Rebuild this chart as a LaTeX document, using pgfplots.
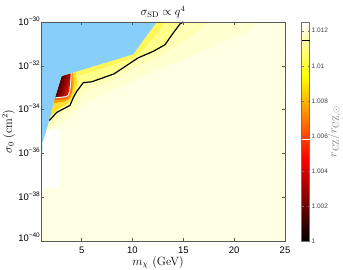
\documentclass[border=0pt]{standalone}
\usepackage{pgfplots}
\pgfplotsset{compat=1.18}
\usepackage{fontspec}
\setsansfont{Liberation Sans}
\definecolor{sky}{RGB}{135,206,250}
\definecolor{cream}{RGB}{255,255,228}
\definecolor{cA}{RGB}{255,255,208}
\definecolor{cB}{RGB}{255,255,182}
\definecolor{yA}{RGB}{255,255,140}
\definecolor{yB}{RGB}{255,246,92}
\definecolor{hA}{RGB}{255,222,50}
\definecolor{hB}{RGB}{255,160,0}
\definecolor{hC}{RGB}{255,95,0}
\definecolor{dkA}{RGB}{10,0,0}
\definecolor{dkM}{RGB}{140,0,0}
\definecolor{dkB}{RGB}{255,40,0}
\definecolor{lblue}{RGB}{195,228,250}
\newcommand\yt[1]{10\raisebox{4bp}{\fontsize{6.5}{7}\selectfont −#1}}
\begin{document}
\begin{tikzpicture}
\path[use as bounding box] (0,0) rectangle (343bp,270bp);
\begin{axis}[
  at={(41bp,29bp)}, anchor=south west,
  scale only axis, width=244bp, height=219bp,
  xmin=1, xmax=25, ymin=-40, ymax=-30,
  xtick={5,10,15,20,25},
  ytick={-40,-38,-36,-34,-32,-30},
  yticklabels={\raisebox{3bp}{\yt{40}},\yt{38},\yt{36},\yt{34},\yt{32},\yt{30}},
  xticklabel style={/pgf/number format/assume math mode=true, font=\fontsize{9.5}{11}\selectfont\sffamily, inner sep=0pt, yshift=-6bp},
  yticklabel style={font=\fontsize{9.5}{11}\selectfont\sffamily, inner sep=0pt, anchor=base east, xshift=-1bp, yshift=-3.4bp},
  tick align=inside, major tick length=3bp,
  axis line style={black!65}, every tick/.style={black!65},
  axis background/.style={fill=cream},
  axis on top,
  title={$\sigma_{\rm SD}\propto q^4$},
  title style={at={(axis description cs:0.5,1)}, anchor=south, inner sep=0pt, yshift=-2bp, font=\fontsize{12}{14}\selectfont},
  xlabel={$m_\chi$ (GeV)},
  xlabel style={at={(axis description cs:0.5,0)}, anchor=north, inner sep=0pt, yshift=-15bp, xshift=-5bp, font=\fontsize{12}{14}\selectfont},
  ylabel={$\sigma_0$ (cm$^2$)},
  ylabel style={at={(axis description cs:0,0.5)}, anchor=south, inner sep=0pt, yshift=26bp, font=\fontsize{12}{14}\selectfont},
  colormap={hotm}{rgb255(0cm)=(0,0,0) rgb255(3cm)=(255,0,0) rgb255(6cm)=(255,255,0) rgb255(8cm)=(255,255,255)},
  colorbar, point meta min=1, point meta max=1.0125,
  colorbar style={
    at={(parent axis.north east)}, anchor=north west, xshift=8bp,
    scale only axis, width=8bp, height=219bp,
    ytick={1,1.002,1.004,1.006,1.008,1.01,1.012},
    yticklabels={1,1.002,1.004,1.006,1.008,1.01,1.012},
    scaled y ticks=false,
    ytick pos=both, yticklabel pos=right,
    yticklabel style={font=\fontsize{6.5}{7}\selectfont\sffamily, anchor=west, inner sep=0pt, xshift=2bp, text=black!75},
    tick align=inside, major tick length=2bp,
    axis line style={black!55}, every tick/.style={black!55},
    ylabel={$r_{\rm CZ}/r_{{\rm CZ},\odot}$},
    ylabel style={at={(axis description cs:1,0.5)}, anchor=north, inner sep=0pt, yshift=-18bp, text=black!55, font=\fontsize{12.5}{14}\selectfont},
    after end axis/.code={
      \draw[white, line width=1.3bp] (rel axis cs:0,0.4645) -- (rel axis cs:1,0.4645);
      \draw[black, line width=1.3bp] (rel axis cs:0,0.9155) -- (rel axis cs:1,0.9155);
    },
  },
]
% faint outer band (above L3)
\addplot[draw=none, fill=cA] coordinates {
 (1,-30) (22.5,-30) (21,-30.5) (18,-31.1) (14,-31.9) (10.5,-32.6) (7,-33.3)
 (5,-33.8) (4,-34.3) (3,-34.6) (2,-34.9) (1,-35.3)};
% pale band (above L2)
\addplot[draw=none, fill=cB] coordinates {
 (1,-30) (17.4,-30) (16.3,-30.45) (15,-30.9) (12.5,-31.6) (10.5,-32.0) (8.5,-32.55)
 (6.3,-32.95) (5.3,-33.15) (4.7,-33.5) (4.2,-33.95) (3.0,-34.15) (2.3,-34.5)
 (1.8,-34.75) (1.5,-35.0) (1,-35.3)};
% white region
\addplot[draw=none, fill=white] coordinates {
 (1,-35.6) (1.23,-35.4) (1.6,-35.0) (2.2,-34.85) (2.7,-35.0) (2.9,-35.3)
 (2.9,-37.2) (2.75,-37.5) (2.5,-37.58) (1,-37.6)};
\addplot[draw=none, fill=lblue] coordinates {
 (1,-35.6) (1.2,-35.6) (1.08,-36.2) (1,-36.5)};
% yellow region between exclusion boundary and contour
\addplot[draw=none, fill=yA] coordinates {
 (12.37,-30) (10.08,-31.47) (3.03,-32.47) (2.38,-33.45) (1.82,-34.47)
 (1.82,-34.50) (2.54,-34.13) (3.85,-33.81) (4.15,-33.48) (4.51,-33.17) (5.16,-32.77)
 (5.99,-32.73) (8.18,-32.37) (9.51,-31.96) (10.54,-31.64) (12.04,-31.34)
 (13.19,-31.04) (14.01,-30.50) (14.67,-30.09) (15.0,-30.0)};
\addplot[draw=none, fill=yB] coordinates {
 (12.37,-30) (10.08,-31.47) (3.03,-32.47) (4.5,-32.45) (5,-32.42) (8,-31.98)
 (10.2,-31.6) (11.2,-31.2) (12.3,-30.6) (13.2,-30)};
% halo around the dark region
\addplot[draw=none, fill=hA] coordinates {
 (3.03,-32.47) (4.4,-32.29) (4.6,-32.8) (4.2,-33.35) (3.6,-33.72) (2.6,-34.0)
 (1.95,-34.3) (1.82,-34.47) (2.38,-33.45)};
\addplot[draw=none, fill=hB] coordinates {
 (3.03,-32.47) (4.15,-32.31) (4.25,-32.85) (3.9,-33.45) (3.4,-33.62) (2.6,-33.68)
 (2.2,-33.72) (2.38,-33.45)};
\addplot[draw=none, fill=hC] coordinates {
 (3.03,-32.47) (4.05,-32.33) (4.0,-33.2) (3.6,-33.5) (2.5,-33.56) (2.3,-33.58)
 (2.38,-33.45)};
% dark region
\addplot[draw=none, top color=dkA, bottom color=dkB, middle color=dkM, shading angle=73] coordinates {
 (3.03,-32.47) (3.98,-32.34) (3.9,-32.9) (3.82,-33.18) (3.7,-33.33) (3.49,-33.41)
 (2.42,-33.46) (2.38,-33.45)};
% excluded region
\addplot[draw=none, fill=sky] coordinates {
 (1,-30) (12.37,-30) (10.08,-31.47) (3.03,-32.47) (2.38,-33.45) (1.82,-34.47)
 (1.23,-35.4) (1,-35.6)};
% contour lines
\addplot[white, line width=1bp, line join=round] coordinates {
 (3.98,-32.34) (3.9,-32.9) (3.82,-33.18) (3.7,-33.33) (3.49,-33.41) (2.42,-33.46)};
\addplot[black, line width=1.2bp, line join=round] coordinates {
 (1.82,-34.50) (2.54,-34.13) (3.85,-33.81) (4.15,-33.48) (4.51,-33.17) (5.16,-32.77)
 (5.99,-32.73) (8.18,-32.37) (9.51,-31.96) (10.54,-31.64) (12.04,-31.34)
 (13.19,-31.04) (14.01,-30.50) (14.67,-30.09) (15.0,-30.0)};
\end{axis}
\end{tikzpicture}
\end{document}
